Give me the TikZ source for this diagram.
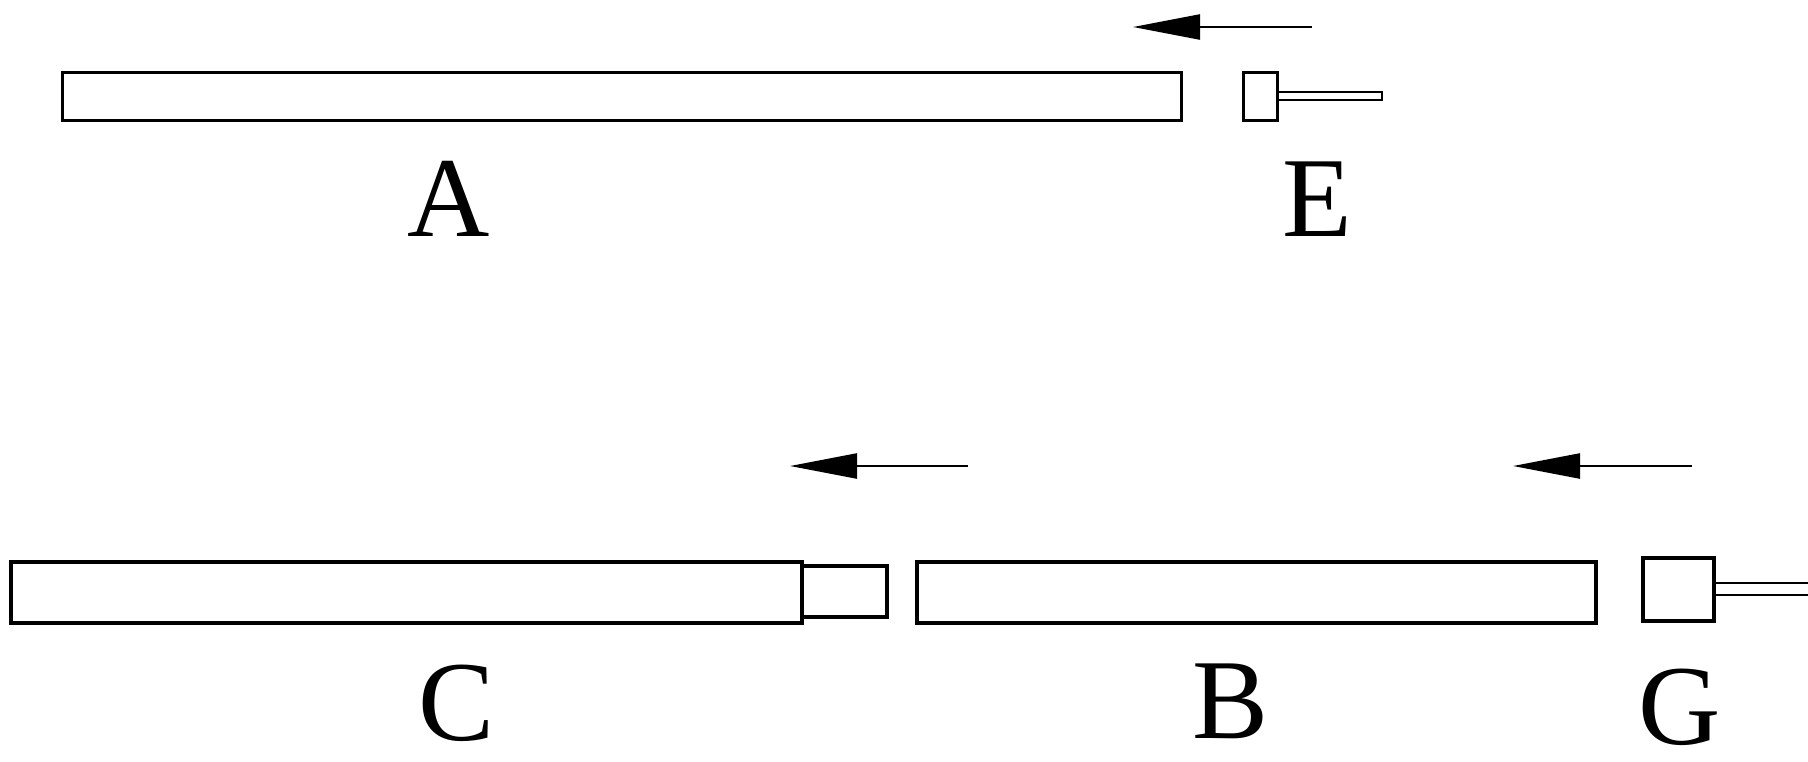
\documentclass[tikz,border=0pt]{standalone}
\usepackage{fontspec}
\setmainfont{Liberation Serif}
\usetikzlibrary{arrows.meta}

\tikzset{
  bar/.style={draw, line width=1.5pt, fill=white},
  rod/.style={draw, line width=1pt},
  push/.style={-{Triangle[length=33.5pt, width=12.5pt]}, line width=1.2pt},
  letter/.style={anchor=base, inner sep=0pt, font=\fontsize{57}{57}\selectfont}
}

\begin{document}
\begin{tikzpicture}[x=0.5pt, y=-0.5pt]
  \useasboundingbox (0,0) rectangle (1808,761);

  % top row: long bar A and plug E
  \draw[bar] (62,72) rectangle (1181,120);
  \draw[bar] (1243,72) rectangle (1277,120);
  \draw[rod] (1277,92) rectangle (1382,100);

  \coordinate (e tail) at (1312,27);
  \coordinate (e head) at (1133,27);
  \draw[push] (e tail) -- (e head);

  \node[letter] (lab A) at (449,236) {A};
  \node[letter] (lab E) at (1317,236) {E};

  % bottom row: C with end piece, B and plug G
  \draw[bar, line width=2pt] (11,562) rectangle (802,623);
  \draw[bar, line width=2pt] (802,566) rectangle (887,617);
  \draw[bar, line width=2pt] (917,562) rectangle (1596,623);
  \draw[bar, line width=2pt] (1643,558) rectangle (1714,621);
  \draw[rod] (1714,583) -- (1808,583);
  \draw[rod] (1714,595) -- (1808,595);

  \coordinate (c tail) at (968,466);
  \coordinate (c head) at (790,466);
  \coordinate (g tail) at (1692,466);
  \coordinate (g head) at (1513,466);
  \draw[push] (c tail) -- (c head);
  \draw[push] (g tail) -- (g head);

  \node[letter] (lab C) at (457,740) {C};
  \node[letter] (lab B) at (1230,738) {B};
  \node[letter] (lab G) at (1680,744) {G};
\end{tikzpicture}
\end{document}
